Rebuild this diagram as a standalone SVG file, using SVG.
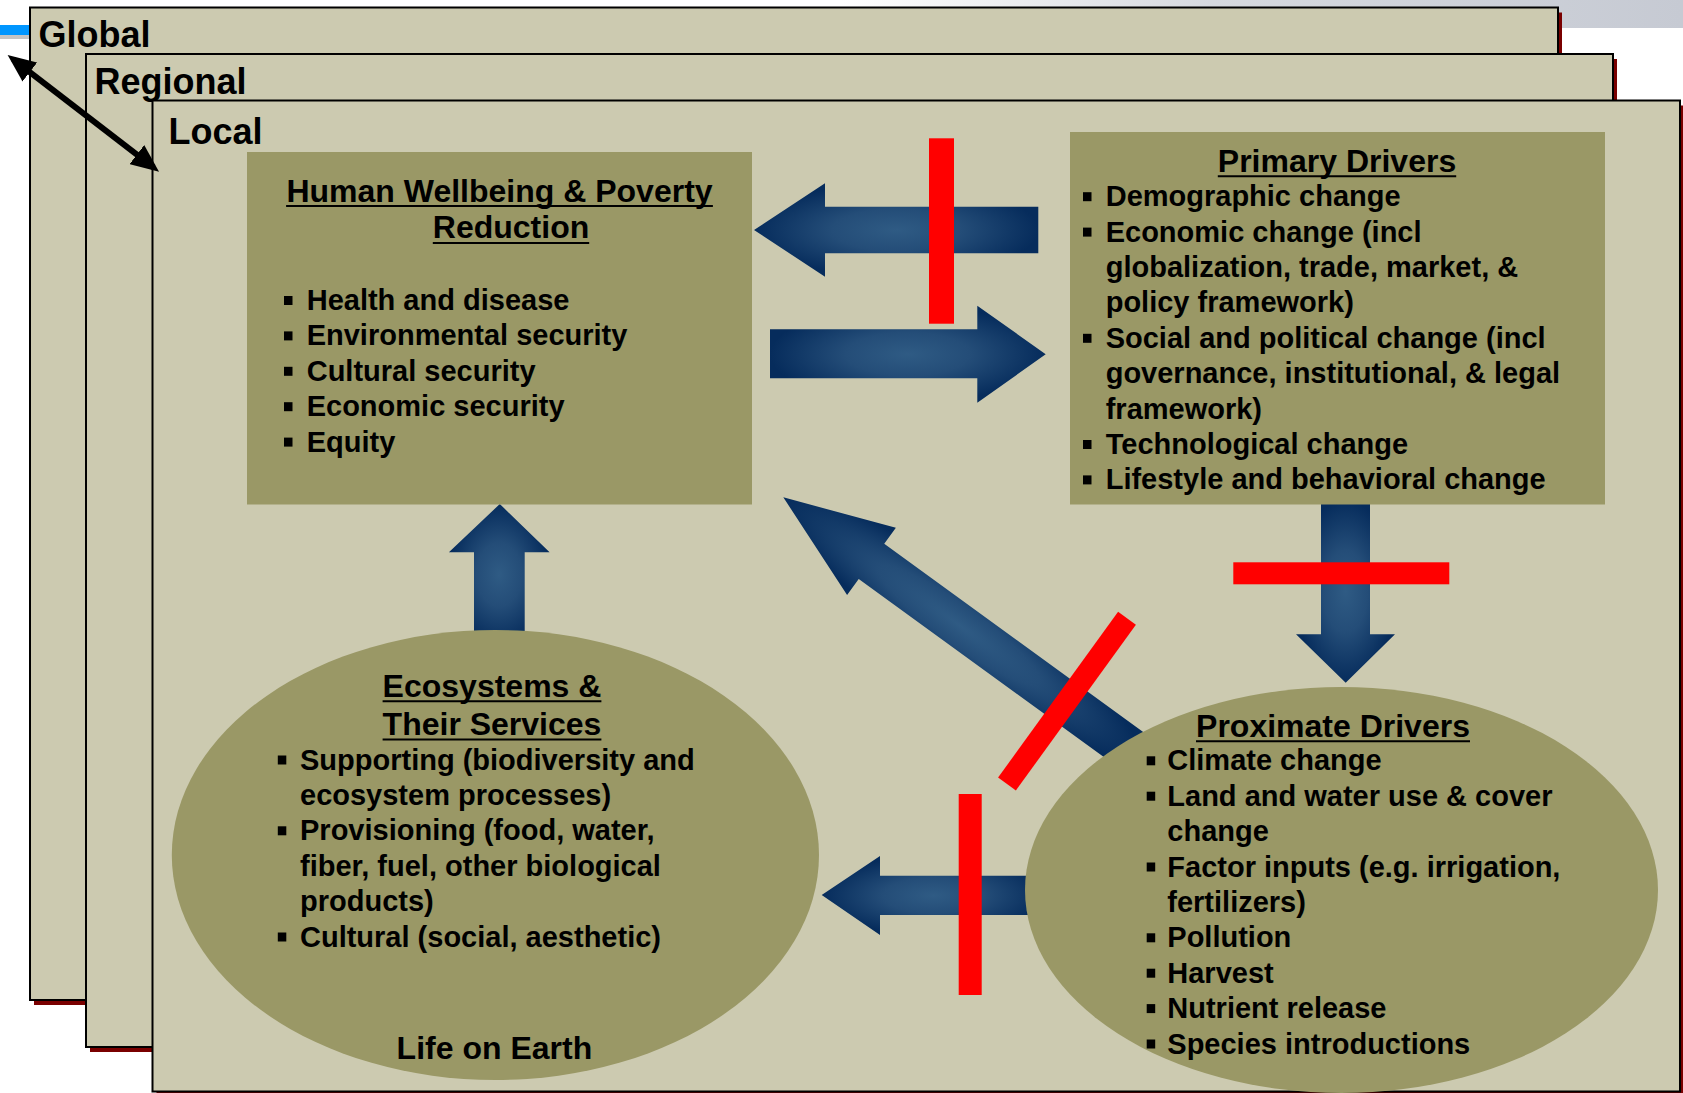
<svg xmlns="http://www.w3.org/2000/svg" width="1683" height="1093" viewBox="0 0 1683 1093">
  <style>
    .frame { fill: #CCCAB0; stroke: #000; stroke-width: 2; }
    .shadow { fill: #7A0000; }
    .box { fill: #9A9866; }
    .t { font-family: "Liberation Sans", Arial, sans-serif; font-weight: bold; fill: #000; }
    .lvl { font-size: 36px; }
    .ttl { font-size: 32px; text-anchor: middle; }
    .uline { stroke: #000; stroke-width: 2; }
    .itm { font-size: 29px; }
    .plain { font-size: 32px; text-anchor: middle; }
    .blt { fill: #000; }
    .flow { fill: url(#flowGrad); }
    .block { fill: #FF0000; }
  </style>
  <defs>
    <linearGradient id="bandGrad" x1="0" y1="0" x2="1" y2="0">
      <stop offset="0" stop-color="#FFFFFF"/>
      <stop offset="0.5" stop-color="#FFFFFF"/>
      <stop offset="0.72" stop-color="#D6D9DF"/>
      <stop offset="1" stop-color="#C6CAD3"/>
    </linearGradient>
    <radialGradient id="flowGrad" cx="0.5" cy="0.5" r="0.5" gradientUnits="objectBoundingBox">
      <stop offset="0" stop-color="#2F5B84"/>
      <stop offset="0.45" stop-color="#244D78"/>
      <stop offset="1" stop-color="#062C5C"/>
    </radialGradient>
    <marker id="headBlack" viewBox="0 0 28 24" refX="21" refY="12" markerWidth="28" markerHeight="24" markerUnits="userSpaceOnUse" orient="auto-start-reverse">
      <path d="M0,0 L28,12 L0,24 z" fill="#000"/>
    </marker>
  </defs>

  <!-- page background -->
  <rect x="0" y="0" width="1683" height="1093" fill="#FFFFFF"/>
  <rect x="0" y="0" width="1683" height="28" fill="url(#bandGrad)"/>
  <rect x="0" y="25" width="30" height="10" fill="#0096FF"/>
  <rect x="0" y="35" width="30" height="4" fill="#C4C4C4"/>

  <!-- nested scale frames -->
  <g id="frame-global">
    <rect class="shadow" x="34" y="12.5" width="1528" height="992.5"/>
    <rect class="frame" x="30" y="7.5" width="1528" height="992.5"/>
    <text class="t lvl" x="38.5" y="47">Global</text>
  </g>
  <g id="frame-regional">
    <rect class="shadow" x="90" y="59" width="1527" height="993"/>
    <rect class="frame" x="86" y="54" width="1527" height="993"/>
    <text class="t lvl" x="94.5" y="93.5">Regional</text>
  </g>
  <g id="frame-local">
    <rect class="shadow" x="156.5" y="105.5" width="1527.5" height="991"/>
    <rect class="frame" x="152.5" y="100.5" width="1527.5" height="991"/>
    <text class="t lvl" x="168.5" y="144">Local</text>
  </g>

  <!-- connectors -->
  <g id="connectors">
    <line x1="13.2" y1="59.3" x2="153.5" y2="167.4" stroke="#000" stroke-width="6" marker-start="url(#headBlack)" marker-end="url(#headBlack)"/>
    <!-- primary drivers -> human wellbeing -->
    <polygon class="flow" points="754,230 825,183.3 825,206.7 1038.3,206.7 1038.3,253.3 825,253.3 825,276.7"/>
    <!-- human wellbeing -> primary drivers -->
    <polygon class="flow" points="770,329.3 977.3,329.3 977.3,305.7 1045.7,354.3 977.3,402.7 977.3,378.3 770,378.3"/>
    <!-- ecosystems -> human wellbeing -->
    <polygon class="flow" points="499.8,504 549.6,552.3 524.7,552.3 524.7,645 474,645 474,552.3 448.9,552.3"/>
    <!-- primary -> proximate drivers -->
    <polygon class="flow" points="1321,500 1370,500 1370,634.3 1395,634.3 1345.7,682.7 1296,634.3 1321,634.3"/>
    <!-- proximate drivers -> ecosystems -->
    <polygon class="flow" points="821.7,895 880,856 880,875.7 1045,875.7 1045,915 880,915 880,935"/>
    <!-- proximate drivers -> human wellbeing -->
    <polygon class="flow" transform="translate(783.3,497.3) rotate(36)" points="0,0 109,-41.5 109,-21.7 435,-21.7 435,21.7 109,21.7 109,41.5"/>
    <!-- blocking bars -->
    <rect class="block" x="929" y="138.3" width="25" height="185.4"/>
    <rect class="block" x="1233.3" y="562.3" width="216" height="22"/>
    <rect class="block" x="958.7" y="794" width="23" height="201"/>
    <line x1="1127" y1="618.3" x2="1007" y2="784" stroke="#FF0000" stroke-width="22"/>
  </g>

  <!-- Human Wellbeing & Poverty Reduction -->
  <g id="node-wellbeing">
    <rect class="box" x="247" y="152" width="505" height="352.5"/>
    <text class="t ttl" x="499.5" y="201.7">Human Wellbeing &amp; Poverty</text>
    <text class="t ttl" x="511" y="238.3">Reduction</text>
    <line class="uline" x1="286.1" y1="206" x2="712.9" y2="206"/>
    <line class="uline" x1="432.8" y1="243" x2="589.2" y2="243"/>
    <rect class="blt" x="284" y="296" width="8.5" height="9"/>
    <rect class="blt" x="284" y="331.4" width="8.5" height="9"/>
    <rect class="blt" x="284" y="366.8" width="8.5" height="9"/>
    <rect class="blt" x="284" y="402.2" width="8.5" height="9"/>
    <rect class="blt" x="284" y="437.6" width="8.5" height="9"/>
    <text class="t itm">
      <tspan x="306.7" y="310">Health and disease</tspan>
      <tspan x="306.7" y="345.4">Environmental security</tspan>
      <tspan x="306.7" y="380.8">Cultural security</tspan>
      <tspan x="306.7" y="416.2">Economic security</tspan>
      <tspan x="306.7" y="451.6">Equity</tspan>
    </text>
  </g>

  <!-- Primary Drivers -->
  <g id="node-primary">
    <rect class="box" x="1070" y="132" width="535" height="372.5"/>
    <text class="t ttl" x="1337" y="171.7">Primary Drivers</text>
    <line class="uline" x1="1217.8" y1="176.2" x2="1456.2" y2="176.2"/>
    <rect class="blt" x="1083" y="192.2" width="8.5" height="9"/>
    <rect class="blt" x="1083" y="227.6" width="8.5" height="9"/>
    <rect class="blt" x="1083" y="333.8" width="8.5" height="9"/>
    <rect class="blt" x="1083" y="440" width="8.5" height="9"/>
    <rect class="blt" x="1083" y="475.4" width="8.5" height="9"/>
    <text class="t itm">
      <tspan x="1105.7" y="206.2">Demographic change</tspan>
      <tspan x="1105.7" y="241.6">Economic change (incl</tspan>
      <tspan x="1105.7" y="277">globalization, trade, market, &amp;</tspan>
      <tspan x="1105.7" y="312.4">policy framework)</tspan>
      <tspan x="1105.7" y="347.8">Social and political change (incl</tspan>
      <tspan x="1105.7" y="383.2">governance, institutional, &amp; legal</tspan>
      <tspan x="1105.7" y="418.6">framework)</tspan>
      <tspan x="1105.7" y="454">Technological change</tspan>
      <tspan x="1105.7" y="489.4">Lifestyle and behavioral change</tspan>
    </text>
  </g>

  <!-- Ecosystems & Their Services -->
  <g id="node-ecosystems">
    <ellipse class="box" cx="495.4" cy="855" rx="323.6" ry="225"/>
    <text class="t ttl" x="492" y="696.7">Ecosystems &amp;</text>
    <text class="t ttl" x="492" y="735">Their Services</text>
    <line class="uline" x1="382.6" y1="701.2" x2="601.4" y2="701.2"/>
    <line class="uline" x1="382.6" y1="739.5" x2="601.4" y2="739.5"/>
    <rect class="blt" x="277.8" y="755.5" width="8.5" height="9"/>
    <rect class="blt" x="277.8" y="826.3" width="8.5" height="9"/>
    <rect class="blt" x="277.8" y="932.5" width="8.5" height="9"/>
    <text class="t itm">
      <tspan x="300" y="769.5">Supporting (biodiversity and</tspan>
      <tspan x="300" y="804.9">ecosystem processes)</tspan>
      <tspan x="300" y="840.3">Provisioning (food, water,</tspan>
      <tspan x="300" y="875.7">fiber, fuel, other biological</tspan>
      <tspan x="300" y="911.1">products)</tspan>
      <tspan x="300" y="946.5">Cultural (social, aesthetic)</tspan>
    </text>
    <text class="t plain" x="494.4" y="1058.5">Life on Earth</text>
  </g>

  <!-- Proximate Drivers -->
  <g id="node-proximate">
    <ellipse class="box" cx="1341.5" cy="890" rx="316.5" ry="203"/>
    <text class="t ttl" x="1333" y="736.7">Proximate Drivers</text>
    <line class="uline" x1="1196" y1="741.2" x2="1470" y2="741.2"/>
    <rect class="blt" x="1146.7" y="756.3" width="8.5" height="9"/>
    <rect class="blt" x="1146.7" y="791.7" width="8.5" height="9"/>
    <rect class="blt" x="1146.7" y="862.5" width="8.5" height="9"/>
    <rect class="blt" x="1146.7" y="933.3" width="8.5" height="9"/>
    <rect class="blt" x="1146.7" y="968.7" width="8.5" height="9"/>
    <rect class="blt" x="1146.7" y="1004.1" width="8.5" height="9"/>
    <rect class="blt" x="1146.7" y="1039.5" width="8.5" height="9"/>
    <text class="t itm">
      <tspan x="1167.3" y="770.3">Climate change</tspan>
      <tspan x="1167.3" y="805.7">Land and water use &amp; cover</tspan>
      <tspan x="1167.3" y="841.1">change</tspan>
      <tspan x="1167.3" y="876.5">Factor inputs (e.g. irrigation,</tspan>
      <tspan x="1167.3" y="911.9">fertilizers)</tspan>
      <tspan x="1167.3" y="947.3">Pollution</tspan>
      <tspan x="1167.3" y="982.7">Harvest</tspan>
      <tspan x="1167.3" y="1018.1">Nutrient release</tspan>
      <tspan x="1167.3" y="1053.5">Species introductions</tspan>
    </text>
  </g>
</svg>
